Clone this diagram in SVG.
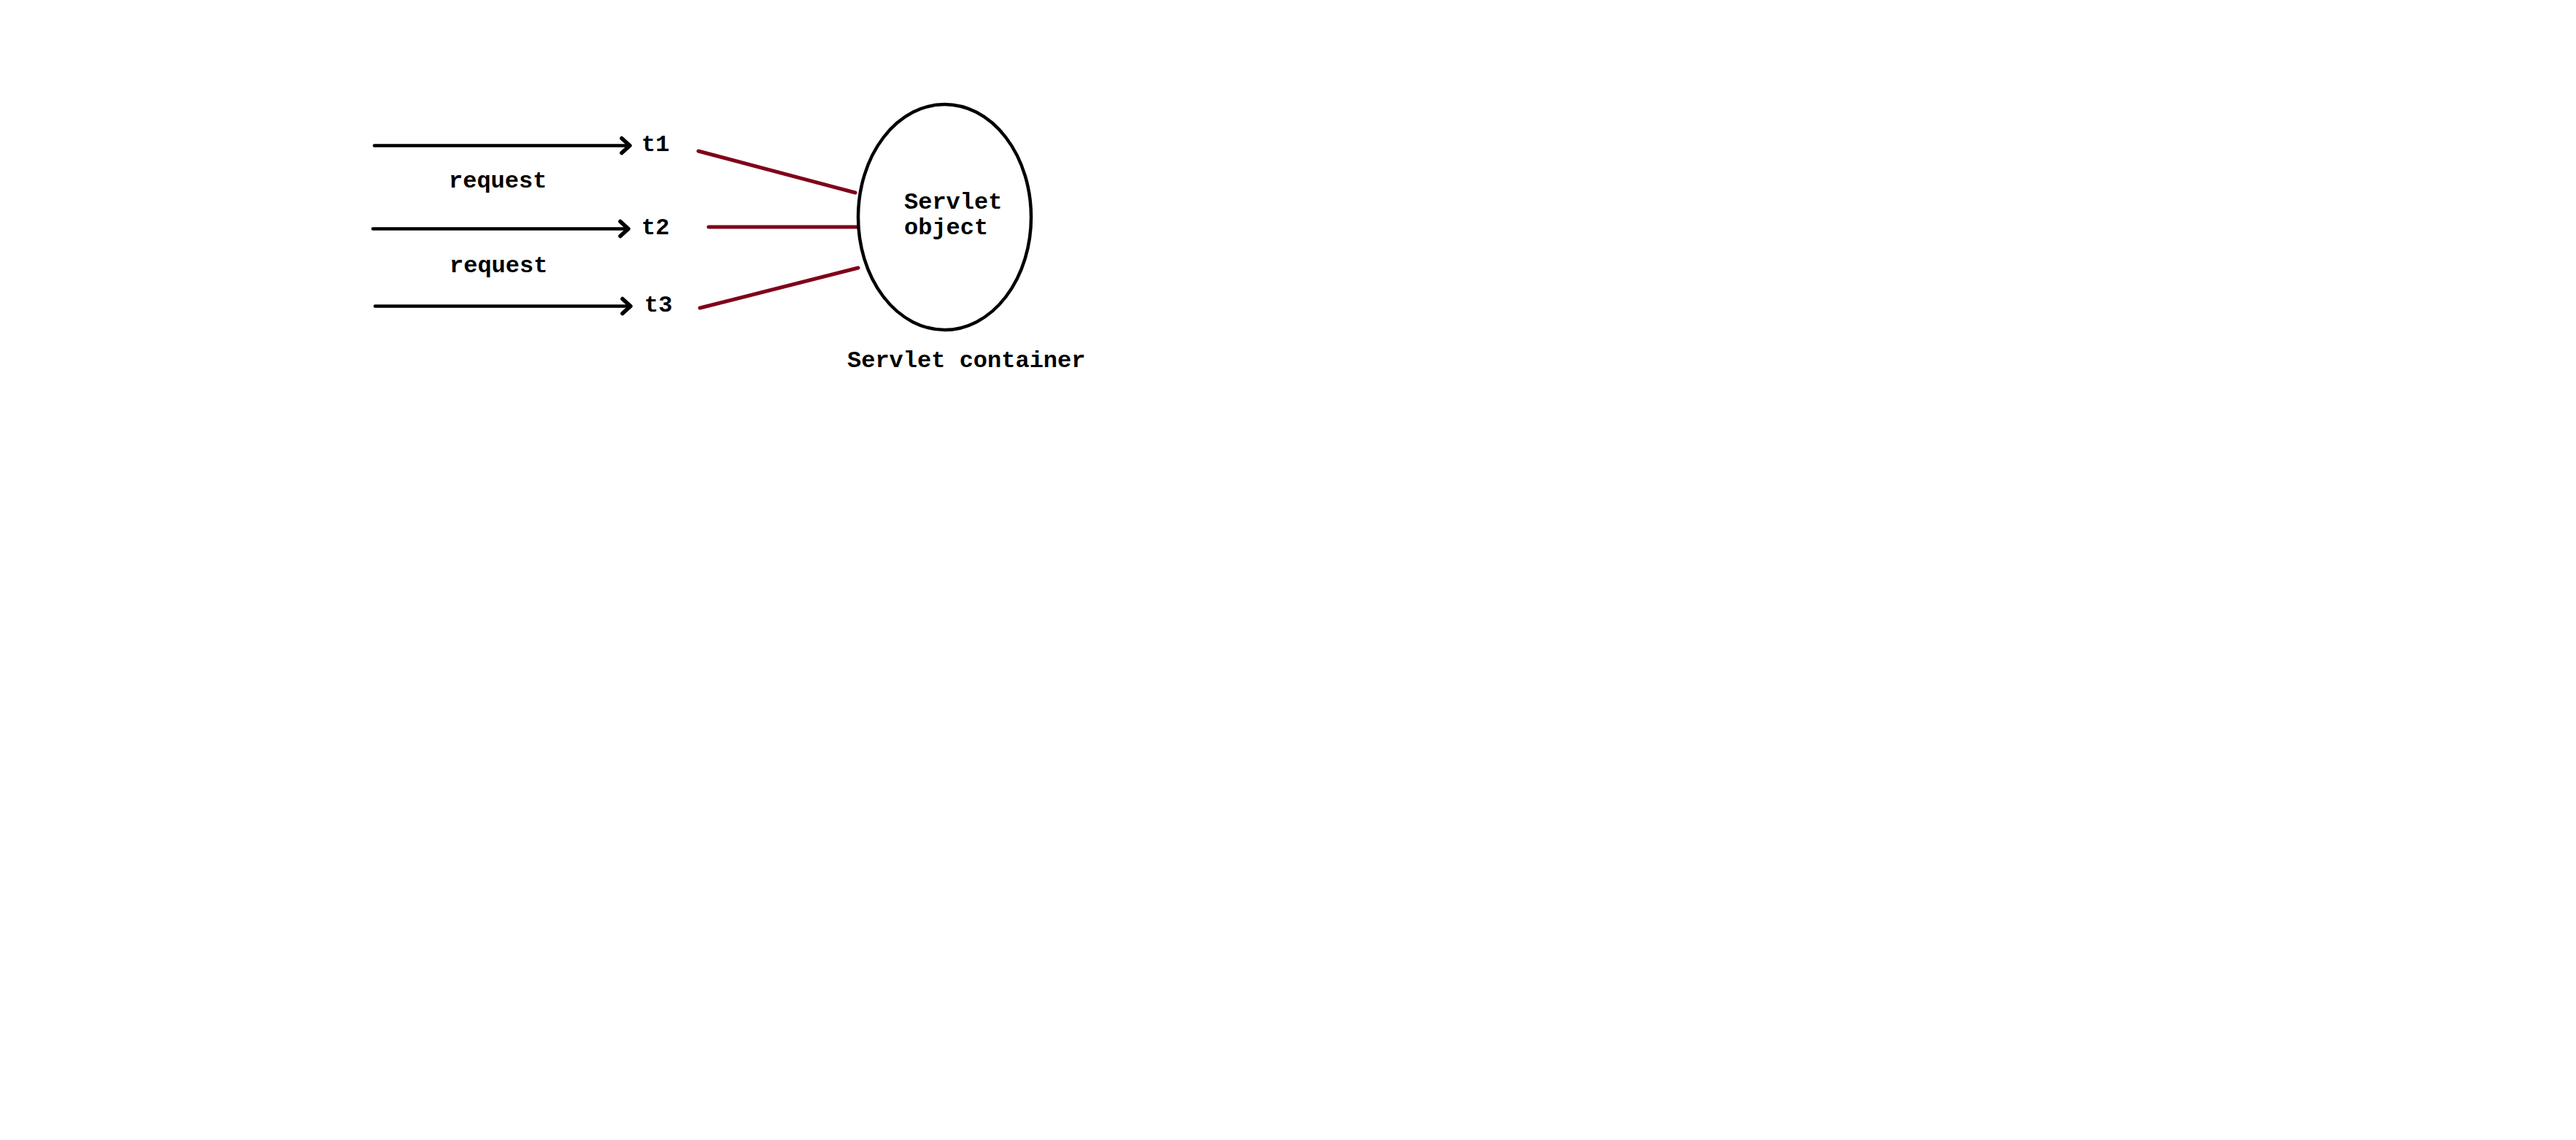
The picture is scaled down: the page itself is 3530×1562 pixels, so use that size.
<svg xmlns="http://www.w3.org/2000/svg" width="3530" height="1562" viewBox="0 0 3530 1562">
<style>
.lbl{font-family:"Liberation Mono","Courier New",monospace;font-weight:bold;font-size:32px;fill:#000}
.req{stroke:#000;stroke-width:4.5;fill:none;stroke-linecap:round}
.link{stroke:#80001a;stroke-width:5;fill:none;stroke-linecap:round}
.obj{stroke:#000;stroke-width:4.5;fill:#fff}
</style>
<defs>
<marker id="chev" markerUnits="userSpaceOnUse" viewBox="-4 -4 19 28" refX="11" refY="10" markerWidth="19" markerHeight="28" orient="auto">
<path d="M0,0 L11,10 L0,20" fill="none" stroke="#000" stroke-width="5.5" stroke-linecap="round" stroke-linejoin="round"/>
</marker>
</defs>
<rect width="3530" height="1562" fill="#fff"/>
<g id="connectors">
<line class="req" x1="513" y1="199.5" x2="863" y2="199.5" marker-end="url(#chev)"/>
<line class="req" x1="511" y1="313.5" x2="861" y2="313.5" marker-end="url(#chev)"/>
<line class="req" x1="514" y1="419.5" x2="864" y2="419.5" marker-end="url(#chev)"/>
<line class="link" x1="957" y1="207" x2="1172" y2="264"/>
<line class="link" x1="971" y1="311" x2="1176" y2="311"/>
<line class="link" x1="959" y1="422" x2="1176" y2="367"/>
</g>
<g id="request-labels">
<text class="lbl" x="615" y="257">request</text>
<text class="lbl" x="616" y="373">request</text>
</g>
<g id="t1"><text class="lbl" x="879" y="207">t1</text></g>
<g id="t2"><text class="lbl" x="879" y="321">t2</text></g>
<g id="t3"><text class="lbl" x="883" y="427">t3</text></g>
<g id="servlet-object">
<ellipse class="obj" cx="1294.5" cy="297.5" rx="118.5" ry="154.5"/>
<text class="lbl" x="1239" y="286">Servlet</text>
<text class="lbl" x="1239" y="321">object</text>
</g>
<g id="servlet-container"><text class="lbl" x="1161" y="503">Servlet container</text></g>
</svg>
